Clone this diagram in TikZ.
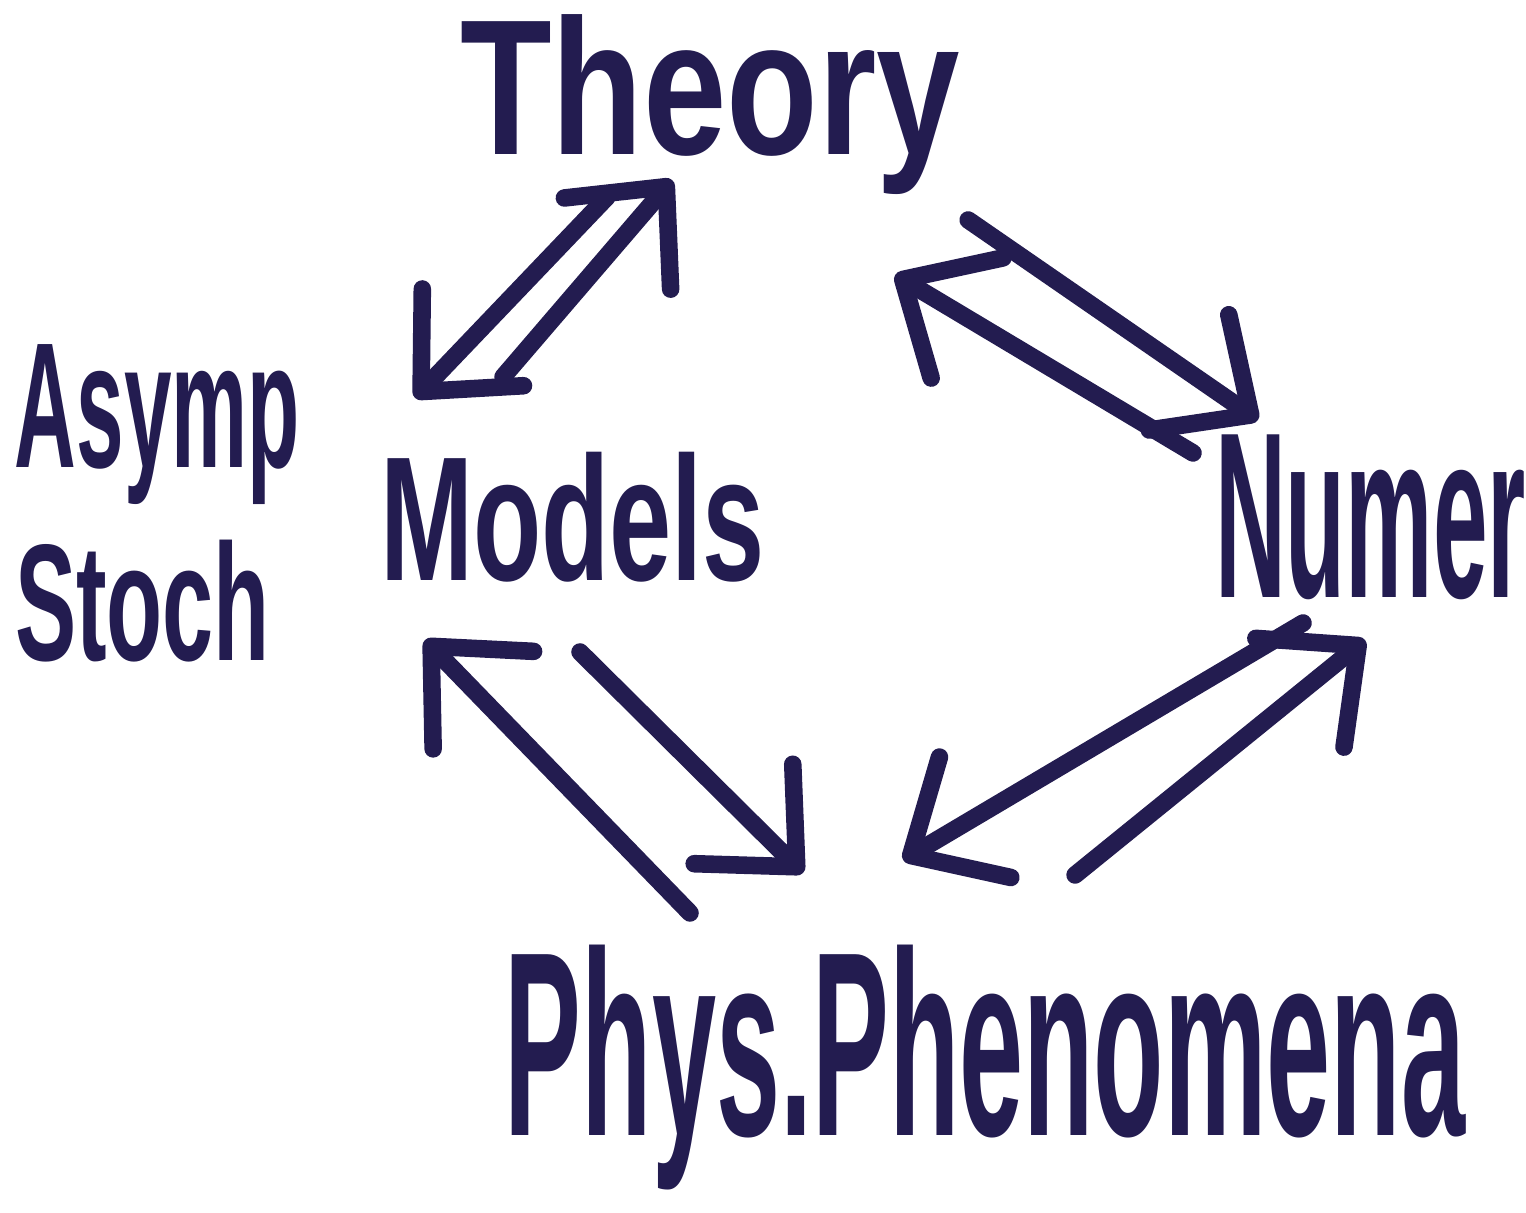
\documentclass[tikz,border=0pt]{standalone}
\usepackage{fontspec}
\setmainfont{Liberation Sans}
\usepackage{graphicx}
\usetikzlibrary{arrows.meta}
\definecolor{ink}{HTML}{231C50}
\newcommand{\scribble}[3]{\resizebox*{#1}{#2}{\bfseries #3}}

\begin{document}
\begin{tikzpicture}[
  handword/.style={text=ink,inner sep=0pt,outer sep=0pt,anchor=south west},
  flow/.style={-{Straight Barb[length=7.5mm,width=14mm,round]},line width=5pt,
    line cap=round,draw=ink}
]
\useasboundingbox (0,-12.13) rectangle (15.26,0);

\node[handword] (theory) at (4.6,-1.95) {\scribble{5.0cm}{1.8cm}{Theory}};
\node[handword] (models) at (3.8,-5.82) {\scribble{3.85cm}{1.3cm}{Models}};
\node[handword] (asymp) at (0.15,-5.05) {\scribble{2.85cm}{1.6cm}{Asymp}};
\node[handword] (stoch) at (0.15,-6.62) {\scribble{2.55cm}{1.22cm}{Stoch}};
\node[handword] (numer) at (12.15,-6.0) {\scribble{3.11cm}{1.65cm}{Numer}};
\node[handword] (phys) at (5.05,-11.9) {\scribble{9.6cm}{2.45cm}{Phys.Phenomena}};

% each pair of nodes is joined both ways
\draw[flow] ([shift={(-1.03,-0.02)}]theory.south) -- ([shift={(-1.575,0.54)}]models.north);
\draw[flow] ([shift={(-0.695,0.75)}]models.north) -- ([shift={(-0.38,0.15)}]theory.south);

\draw[flow] ([shift={(0.08,-0.25)}]theory.south east) -- ([shift={(0.43,0.15)}]numer.north west);
\draw[flow] ([shift={(-0.22,-0.18)}]numer.north west) -- ([shift={(-0.65,-0.80)}]theory.south east);

\draw[flow] ([shift={(0.075,-0.70)}]models.south) -- ([shift={(2.98,0.72)}]phys.north west);
\draw[flow] ([shift={(1.85,0.32)}]phys.north west) -- ([shift={(-1.475,-0.58)}]models.south);

\draw[flow] ([shift={(-0.675,-0.23)}]numer.south) -- ([shift={(-0.82,0.85)}]phys.north);
\draw[flow] ([shift={(0.9,0.7)}]phys.north) -- ([shift={(-0.055,-0.40)}]numer.south);
\end{tikzpicture}
\end{document}
